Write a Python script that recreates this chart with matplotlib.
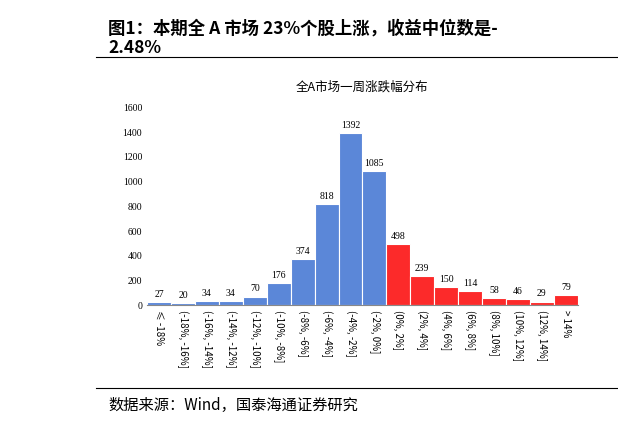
import matplotlib
matplotlib.use("Agg")
import matplotlib.pyplot as plt

plt.rcParams["font.family"] = ["Noto Sans CJK SC", "DejaVu Sans"]

labels = ["≤ -18%", "(-18%, -16%]", "(-16%, -14%]", "(-14%, -12%]", "(-12%, -10%]",
          "(-10%, -8%]", "(-8%, -6%]", "(-6%, -4%]", "(-4%, -2%]", "(-2%, 0%]",
          "(0%, 2%]", "(2%, 4%]", "(4%, 6%]", "(6%, 8%]", "(8%, 10%]",
          "(10%, 12%]", "(12%, 14%]", "> 14%"]
counts = [27, 20, 34, 34, 70, 176, 374, 818, 1392, 1085,
          498, 239, 150, 114, 58, 46, 29, 79]
colors = ["#5b87d8"] * 10 + ["#fc2a2a"] * 8

fig = plt.figure(figsize=(6.18, 4.25), dpi=100)
fig.text(0.175, 0.955, "图1：本期全 A 市场 23%个股上涨，收益中位数是-\n2.48%",
         fontsize=12.5, fontweight="bold", va="top", ha="left", linespacing=1.1)
fig.add_artist(plt.Line2D([0.155, 1.0], [0.866, 0.866], color="black", lw=0.8))
fig.add_artist(plt.Line2D([0.155, 1.0], [0.087, 0.087], color="black", lw=0.8))
fig.text(0.175, 0.047, "数据来源：Wind，国泰海通证券研究", fontsize=11, va="center")

ax = fig.add_axes([0.238, 0.282, 0.697, 0.465])
x = range(len(counts))
ax.bar(x, counts, width=1.0, color=colors, edgecolor="white", linewidth=0.8)
for i, v in enumerate(counts):
    ax.text(i, v + 25, str(v), ha="center", va="bottom", fontsize=7,
            family=["Liberation Serif", "DejaVu Serif"])
ax.set_xlim(-0.5, len(counts) - 0.5)
ax.set_ylim(0, 1600)
ax.set_yticks(range(0, 1601, 200))
ax.tick_params(axis="y", labelsize=7, length=0)
ax.set_xticks(list(x))
ax.set_xticklabels(labels, rotation=-90, fontsize=7, va="top")
ax.tick_params(axis="x", length=0)
for lab in ax.get_yticklabels():
    lab.set_family(["Liberation Serif", "DejaVu Serif"])
for s in ["top", "right", "left"]:
    ax.spines[s].set_visible(False)
ax.spines["bottom"].set_color("#888888")
ax.set_title("全A市场一周涨跌幅分布", fontsize=9, pad=12)

fig.savefig("out.png", dpi=100)
